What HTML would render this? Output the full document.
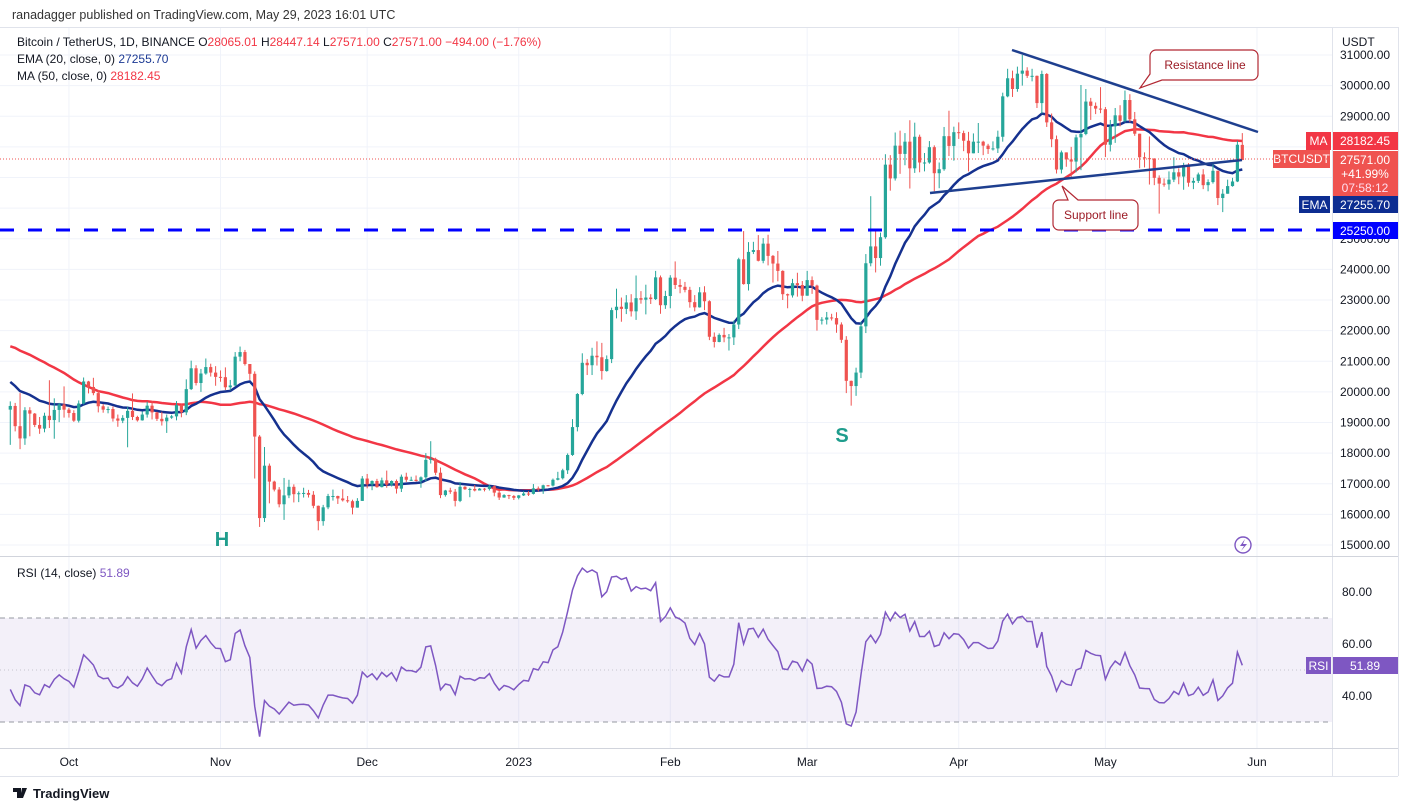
<!DOCTYPE html>
<html><head><meta charset="utf-8"><style>
html,body{margin:0;padding:0;background:#fff;}
svg{display:block;font-family:"Liberation Sans",sans-serif;}
</style></head><body>
<svg id="chart" width="1408" height="811" viewBox="0 0 1408 811" xmlns="http://www.w3.org/2000/svg">
<defs>
<clipPath id="pc"><rect x="0" y="28" width="1332" height="527"/></clipPath>
<clipPath id="rc"><rect x="0" y="558" width="1332" height="190"/></clipPath>
</defs>
<rect x="0" y="0" width="1408" height="811" fill="#fff"/>
<text x="12" y="19" font-size="12.5" fill="#333">ranadagger published on TradingView.com, May 29, 2023 16:01 UTC</text>
<g id="grid"></g>
<line x1="0" y1="27.5" x2="1398" y2="27.5" stroke="#e0e3eb"/>
<line x1="1398.5" y1="27" x2="1398.5" y2="776" stroke="#e0e3eb"/>
<line x1="1332.5" y1="27" x2="1332.5" y2="776" stroke="#e0e3eb"/>
<line x1="0" y1="556.5" x2="1398" y2="556.5" stroke="#d1d4dc"/>
<line x1="0" y1="748.5" x2="1398" y2="748.5" stroke="#d1d4dc"/>
<line x1="0" y1="776.5" x2="1398" y2="776.5" stroke="#e0e3eb"/>
<rect x="0" y="618" width="1332" height="104" fill="#7e57c2" fill-opacity="0.09"/>
<line x1="0" y1="618" x2="1332" y2="618" stroke="#9598a1" stroke-dasharray="5,4"/>
<line x1="0" y1="722" x2="1332" y2="722" stroke="#9598a1" stroke-dasharray="5,4"/>
<line x1="0" y1="670" x2="1332" y2="670" stroke="#9598a1" stroke-opacity="0.5" stroke-dasharray="1,3"/>
<g id="price" clip-path="url(#pc)"></g>
<g id="rsi" clip-path="url(#rc)"></g>
<g id="axes"></g>
<line x1="0" y1="230" x2="1332" y2="230" stroke="#0000ff" stroke-width="3" stroke-dasharray="14,14"/>
<line x1="1012" y1="50" x2="1258" y2="132" stroke="#1e3f8f" stroke-width="2.5"/>
<line x1="930" y1="193" x2="1242" y2="160" stroke="#1e3f8f" stroke-width="2.5"/>
<g>
<path d="M1156,50 H1252 a6,6 0 0 1 6,6 V74 a6,6 0 0 1 -6,6 H1162 L1140,88 L1150,74 V56 a6,6 0 0 1 6,-6 Z" fill="#fff" stroke="#b22833" stroke-width="1.2"/>
<text x="1205" y="69" font-size="12" fill="#9c1c26" text-anchor="middle">Resistance line</text>
</g>
<g>
<path d="M1059,200 H1068 L1062,186 L1078,200 H1132 a6,6 0 0 1 6,6 V224 a6,6 0 0 1 -6,6 H1059 a6,6 0 0 1 -6,-6 V206 a6,6 0 0 1 6,-6 Z" fill="#fff" stroke="#b22833" stroke-width="1.2"/>
<text x="1096" y="219" font-size="12" fill="#9c1c26" text-anchor="middle">Support line</text>
</g>
<text x="222" y="546" font-size="20" font-weight="bold" fill="#1f9d8d" text-anchor="middle">H</text>
<text x="842" y="442" font-size="20" font-weight="bold" fill="#1f9d8d" text-anchor="middle">S</text>
<g font-size="12">
<text x="17" y="46" fill="#131722">Bitcoin / TetherUS, 1D, BINANCE <tspan fill="#131722">O</tspan><tspan fill="#f23645">28065.01</tspan> <tspan fill="#131722">H</tspan><tspan fill="#f23645">28447.14</tspan> <tspan fill="#131722">L</tspan><tspan fill="#f23645">27571.00</tspan> <tspan fill="#131722">C</tspan><tspan fill="#f23645">27571.00 −494.00 (−1.76%)</tspan></text>
<text x="17" y="63" fill="#131722">EMA (20, close, 0) <tspan fill="#1c3a94">27255.70</tspan></text>
<text x="17" y="80" fill="#131722">MA (50, close, 0) <tspan fill="#f23645">28182.45</tspan></text>
<text x="17" y="577" fill="#131722">RSI (14, close) <tspan fill="#7e57c2">51.89</tspan></text>
</g>
<text x="1342" y="46" font-size="12" fill="#131722">USDT</text>
<g font-size="12">
<rect x="1306" y="132" width="25" height="18" fill="#f23645"/><text x="1318.5" y="145" fill="#fff" text-anchor="middle">MA</text>
<rect x="1333" y="132" width="65" height="18" fill="#f23645"/><text x="1365" y="145" fill="#fff" text-anchor="middle">28182.45</text>
<rect x="1273" y="150" width="57" height="18" fill="#ef5350"/><text x="1301.5" y="163" fill="#fff" text-anchor="middle">BTCUSDT</text>
<rect x="1333" y="151" width="65" height="45" fill="#ef5350"/><text x="1365" y="164" fill="#fff" text-anchor="middle">27571.00</text>
<text x="1365" y="178" fill="#fff" text-anchor="middle">+41.99%</text><text x="1365" y="192" fill="#fde" text-anchor="middle">07:58:12</text>
<rect x="1299" y="196" width="31" height="17" fill="#0d2d91"/><text x="1314.5" y="209" fill="#fff" text-anchor="middle">EMA</text>
<rect x="1333" y="196" width="65" height="17" fill="#0d2d91"/><text x="1365" y="209" fill="#fff" text-anchor="middle">27255.70</text>
<rect x="1333" y="222" width="65" height="17" fill="#0000ff"/><text x="1365" y="235" fill="#fff" text-anchor="middle">25250.00</text>
<rect x="1306" y="657" width="25" height="17" fill="#7e57c2"/><text x="1318.5" y="670" fill="#fff" text-anchor="middle">RSI</text>
<rect x="1333" y="657" width="65" height="17" fill="#7e57c2"/><text x="1365" y="670" fill="#fff" text-anchor="middle">51.89</text>
</g>
<line x1="0" y1="159" x2="1332" y2="159" stroke="#ef5350" stroke-dasharray="1,2"/>
<g><circle cx="1243" cy="545" r="8" fill="none" stroke="#7e57c2" stroke-width="1.4"/><path d="M1245,539 L1240,546 H1244 L1241,551 L1247,544 H1243 Z" fill="#7e57c2"/></g>
<g>
<path d="M13,788 h8 v10 h-4 v-6 h-4z M22,788 h5 l-4,10 h-3z" fill="#131722"/>
<text x="33" y="798" font-size="13" font-weight="bold" fill="#131722">TradingView</text>
</g>
</svg>
<script>
const months = ["Oct","Nov","Dec","2023","Feb","Mar","Apr","May","Jun"];
const monthIdx = [10,41,71,102,133,161,192,222,253];
const priceTicks = [15,16,17,18,19,20,21,22,23,24,25,26,29,30,31];
const rsiTicks = [40,60,80];
const prefixClose = [22.98,22.81,22.61,23.31,22.95,23.18,23.81,23.16,23.95,23.94,24.40,24.44,24.30,24.10,23.85,23.34,23.19,20.83,21.14,21.52,21.40,21.53,21.37,21.56,20.24,20.04,19.55,20.29,19.80,20.05,20.13,19.95,19.83,19.99,19.80,18.79,19.29,19.32,21.36,21.65,21.83,22.40,20.17,20.23,19.70,19.80,20.11,19.42,19.54,18.88];
const prefixHigh = [19.69,19.64];
const prefixLow = [18.27,18.71];
const closeVals = [].concat(
[18.48,19.40,19.29,18.92,18.80,19.22,19.08,19.41,19.59,19.42],
[19.31,19.06,19.62,20.34,20.16,19.96,19.53,19.42,19.44,19.13,19.06,19.15,19.38,19.18,19.07,19.26,19.55,19.33,19.12,19.04,19.16,19.20,19.57,19.33,20.09,20.77,20.29,20.60,20.81,20.63,20.49],
[20.48,20.15,20.21,21.15,21.30,20.91,20.59,18.54,15.88,17.59,17.07,16.81,16.33,16.62,16.90,16.66,16.69,16.70,16.64,16.28,15.78,16.23,16.60,16.60,16.52,16.46,16.43,16.22,16.44,17.17],
[16.98,17.09,16.89,17.11,16.97,17.09,16.84,17.23,17.13,17.13,17.09,17.21,17.78,17.81,17.36,16.63,16.78,16.74,16.44,16.90,16.82,16.83,16.78,16.84,16.83,16.92,16.71,16.55,16.63,16.60,16.54],
[16.62,16.68,16.67,16.85,16.83,16.95,16.94,17.13,17.18,17.44,17.94,18.85,19.93,20.95,20.87,21.18,21.13,20.68,21.07,22.67,22.78,22.71,22.92,22.63,23.06,23.01,23.08,23.03,23.74,22.83,23.13],
[23.73,23.49,23.43,23.33,22.93,22.76,23.25,22.96,21.80,21.63,21.86,21.78,21.78,22.20,24.33,23.52,24.57,24.63,24.28,24.84,24.44,24.19,23.95,23.19,23.15,23.55,23.49,23.14],
[23.65,23.47,22.35,22.36,22.43,22.41,22.20,21.70,20.36,20.19,20.63,22.14,24.20,24.75,24.37,25.05,27.42,26.97,28.04,27.77,28.17,27.30,28.33,27.49,27.49,27.99,27.14,27.27,28.35,28.03,28.48],
[28.45,28.20,27.79,28.17,28.17,28.04,27.93,27.95,28.33,29.65,30.24,29.89,30.39,30.49,30.32,30.32,29.43,30.38,28.80,28.25,27.26,27.82,27.59,27.52,28.31,28.42,29.48,29.34,29.25,29.23],
[28.07,28.67,29.03,28.85,29.53,28.90,28.43,27.66,27.63,27.62,26.99,26.80,26.78,26.93,27.17,27.03,27.40,26.83,26.89,27.10,26.75,26.85,27.22,26.33,26.47,26.72,26.87,28.07,27.57]);
const highVals = [].concat(
[19.96,19.50,19.50,19.31,19.18,19.32,20.38,19.79,19.64,20.18],
[19.48,19.40,19.72,20.47,20.36,20.46,20.06,19.60,19.52,19.52,19.26,19.24,19.51,19.95,19.22,19.36,19.68,19.70,19.35,19.35,19.26,19.25,19.70,19.60,20.41,21.02,20.87,20.75,21.09,20.92,20.84],
[20.70,20.80,20.39,21.30,21.48,21.37,20.67,20.67,18.59,18.20,17.66,17.10,16.89,17.19,17.13,16.98,16.75,16.87,16.80,16.76,16.29,16.31,16.67,16.81,16.61,16.82,16.60,16.48,16.53,17.25],
[17.32,17.11,17.16,17.20,17.43,17.11,17.14,17.30,17.36,17.23,17.27,17.24,18.00,18.39,17.85,17.53,16.80,16.87,16.83,17.06,16.92,16.87,16.96,16.86,16.86,16.97,16.95,16.78,16.66,16.64,16.63],
[16.63,16.76,16.76,16.99,16.91,16.97,16.96,17.17,17.39,17.49,17.99,19.11,19.96,21.26,21.07,21.44,21.65,21.60,21.19,22.75,23.37,23.08,23.16,23.19,23.80,23.29,23.50,23.19,23.95,23.80,23.30],
[23.81,24.26,23.68,23.59,23.43,23.16,23.42,23.45,22.99,21.94,21.91,22.09,21.89,22.33,24.38,25.25,24.89,24.90,25.12,25.02,25.13,24.47,24.60,23.97,23.21,23.69,23.89,23.62],
[23.95,23.77,23.50,22.44,22.61,22.55,22.60,22.27,21.82,20.37,20.79,22.29,24.50,26.39,25.25,25.20,27.76,27.73,28.47,28.53,28.45,28.87,28.79,28.40,27.80,28.19,28.05,27.49,28.65,29.18,28.66],
[28.80,28.53,28.49,28.44,28.78,28.20,28.10,28.18,28.53,29.77,30.55,30.49,30.62,31.00,30.60,30.55,30.33,30.49,30.41,29.09,28.37,27.88,27.82,28.00,28.40,30.02,29.89,29.60,29.45,29.95],
[29.30,28.88,29.27,29.36,29.84,29.72,29.14,28.43,27.82,28.34,27.63,27.07,26.97,27.20,27.66,27.30,27.48,27.47,26.99,27.16,27.27,26.94,27.50,27.22,26.62,26.93,26.99,28.20,28.45]);
const lowVals = [].concat(
[18.13,18.27,18.55,18.85,18.63,18.68,18.82,18.47,19.01,19.16],
[19.16,19.02,19.00,19.59,19.95,19.89,19.33,19.32,19.30,19.03,18.86,18.98,18.19,19.08,19.03,19.06,19.16,19.10,19.05,18.90,18.66,19.12,19.07,19.17,19.24,20.06,20.21,20.00,20.56,20.50,20.20],
[20.33,20.06,20.05,20.18,21.00,20.86,20.39,17.17,15.59,15.75,16.36,16.75,16.23,15.82,16.53,16.39,16.40,16.55,16.55,16.20,15.48,15.63,16.17,16.45,16.34,16.42,16.38,16.00,16.22,16.44],
[16.85,16.79,16.87,16.88,16.87,16.91,16.68,16.73,17.06,17.09,17.07,16.87,17.08,17.66,17.28,16.53,16.58,16.67,16.26,16.40,16.80,16.56,16.75,16.79,16.75,16.78,16.59,16.47,16.54,16.50,16.47],
[16.49,16.60,16.60,16.65,16.75,16.67,16.91,16.91,17.11,17.14,17.32,17.91,18.71,19.89,20.55,20.55,20.86,20.40,20.66,20.94,22.40,22.29,22.54,22.46,22.35,22.88,22.53,22.87,23.00,22.55,22.71],
[22.73,23.36,23.22,23.25,22.75,22.63,22.75,22.67,21.69,21.45,21.62,21.62,21.35,21.53,22.05,23.50,23.31,24.50,24.26,24.20,24.13,23.57,23.61,23.00,22.73,23.08,23.11,22.96],
[23.23,23.20,22.00,22.20,22.20,22.33,21.93,21.60,19.96,19.55,19.87,20.45,21.92,24.10,23.90,24.12,25.00,26.57,26.90,27.12,27.40,26.64,27.15,27.17,27.20,27.45,26.55,26.65,27.22,27.70,27.55],
[28.26,27.86,27.20,27.79,27.80,27.73,27.77,27.88,27.80,28.17,29.62,29.63,29.80,30.00,30.25,30.14,29.27,29.09,28.65,27.99,27.13,27.13,27.35,27.00,27.17,27.24,28.38,28.88,29.07,29.10],
[27.67,27.85,28.13,28.67,28.80,28.80,28.36,27.30,27.33,26.77,26.75,25.82,26.70,26.60,26.85,26.78,26.60,26.70,26.62,26.82,26.62,26.55,26.80,26.10,25.87,26.50,26.70,26.85,27.57]);
const lastOpen = 28.065;

const NS = "http://www.w3.org/2000/svg";
const N = closeVals.length;
const step = 4.889;
function xs(i){ return 1242.3 - (N-1-i)*step; }
function ys(p){ return 545 - (p-15)*30.625; }
function yr(r){ return 644 - (r-60)*2.6; }
function mk(tag, attrs, parent){ const e=document.createElementNS(NS,tag); for(const k in attrs) e.setAttribute(k,attrs[k]); parent.appendChild(e); return e; }

const grid=document.getElementById('grid');
const axes=document.getElementById('axes');
const price=document.getElementById('price');
const rsiG=document.getElementById('rsi');

for(let k=15;k<=31;k++){
  const g=mk('line',{x1:0,x2:1332,y1:ys(k),y2:ys(k),stroke:'#f0f3fa'},grid);
  
  
}
for(let m=0;m<months.length;m++){
  const x=xs(monthIdx[m]);
  const g=mk('line',{x1:x,x2:x,y1:28,y2:748,stroke:'#f0f3fa'},grid);
  
  
  const t=mk('text',{x:x,y:766,'font-size':12,fill:'#131722','text-anchor':'middle'},axes);
  t.textContent=months[m];
  
  
}
for(const p of priceTicks){
  const t=mk('text',{x:1340,y:ys(p)+4,'font-size':12,fill:'#131722'},axes);
  t.textContent=(p*1000).toFixed(2);
  
  
}
for(const r of rsiTicks){
  const t=mk('text',{x:1342,y:yr(r)+4,'font-size':12,fill:'#131722'},axes);
  t.textContent=r.toFixed(2);
  
  
}

const all=prefixClose.concat(closeVals);
const P=prefixClose.length;
const ema=[]; let e=all[0]; const a=2/21;
for(let i=0;i<all.length;i++){ e = i===0?all[0]:all[i]*a+e*(1-a); ema.push(e); }
const ma=[];
for(let i=0;i<all.length;i++){ let s=0,c=0; for(let j=Math.max(0,i-49);j<=i;j++){s+=all[j];c++;} ma.push(s/c); }
const rsi=[]; let ag=0,al=0;
for(let i=1;i<all.length;i++){
  const d=all[i]-all[i-1]; const g=Math.max(d,0), l=Math.max(-d,0);
  if(i<=14){ ag+=g/14; al+=l/14; } else { ag=(ag*13+g)/14; al=(al*13+l)/14; }
  rsi[i]= al===0?100:100-100/(1+ag/al);
}

const START=-2;
function linePath(arr){ let d=''; for(let i=START;i<N;i++){ d+=(i===START?'M':'L')+xs(i).toFixed(1)+','+ys(arr[P+i]).toFixed(1); } return d; }
const maL=mk('path',{d:linePath(ma),fill:'none',stroke:'#f23645','stroke-width':2.5},price);


const emaL=mk('path',{d:linePath(ema),fill:'none',stroke:'#15318f','stroke-width':2.5},price);



for(let i=START;i<N;i++){
  const o = i===N-1 ? lastOpen : all[P+i-1];
  const c = all[P+i];
  const hv = i<0 ? prefixHigh[i+2] : highVals[i];
  const lv = i<0 ? prefixLow[i+2] : lowVals[i];
  const h = Math.max(hv, o, c), l = Math.min(lv, o, c);
  const up = c>=o; const col = up?'#26a69a':'#ef5350';
  const x = xs(i);
  const w = mk('line',{x1:x,x2:x,y1:ys(h),y2:ys(l),stroke:col,'stroke-width':1},price);
  
  
  const top=ys(Math.max(o,c)), bot=ys(Math.min(o,c));
  const b = mk('rect',{x:x-1.6,y:top,width:3.2,height:Math.max(1,bot-top),fill:col},price);
  
  
}

let rd='';
for(let i=START;i<N;i++){ rd+=(i===START?'M':'L')+xs(i).toFixed(1)+','+yr(rsi[P+i]).toFixed(1); }
const rl=mk('path',{d:rd,fill:'none',stroke:'#7e57c2','stroke-width':1.5},rsiG);


</script>
</body></html>
